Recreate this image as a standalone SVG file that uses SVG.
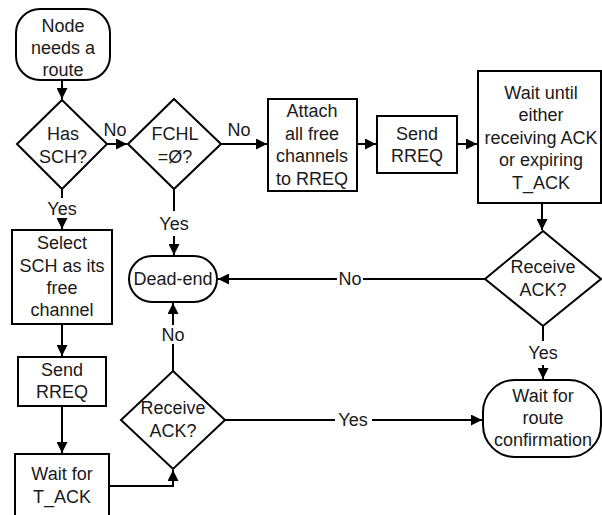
<svg xmlns="http://www.w3.org/2000/svg" width="602" height="515" viewBox="0 0 602 515">
<style>
.s{fill:#fff;stroke:#000;stroke-width:2}
.c{fill:none;stroke:#000;stroke-width:2}
text{font-family:"Liberation Sans",Arial,sans-serif;font-size:18px;fill:#1a1a1a;text-anchor:middle}
</style>
<defs>
<marker id="a" markerUnits="userSpaceOnUse" viewBox="0 0 10 10" refX="10" refY="5" markerWidth="11" markerHeight="11" orient="auto">
<path d="M0,0 L10,5 L0,10 z" fill="#000"/>
</marker>
</defs>
<g id="connectors">
<path class="c" d="M62,80 V99" marker-end="url(#a)"/>
<path class="c" d="M107,144 H127" marker-end="url(#a)"/>
<path class="c" d="M221,144 H267" marker-end="url(#a)"/>
<path class="c" d="M357,144 H376" marker-end="url(#a)"/>
<path class="c" d="M457,144 H477" marker-end="url(#a)"/>
<path class="c" d="M542,203 V230" marker-end="url(#a)"/>
<path class="c" d="M62,189 V198 M62,221 V229" marker-end="url(#a)"/>
<path class="c" d="M174,189 V211 M174,236 V255" marker-end="url(#a)"/>
<path class="c" d="M485,279 H363 M337,279 H218" marker-end="url(#a)"/>
<path class="c" d="M543,326 V341 M543,365 V379" marker-end="url(#a)"/>
<path class="c" d="M62,324 V356" marker-end="url(#a)"/>
<path class="c" d="M62,406 V453" marker-end="url(#a)"/>
<path class="c" d="M109,486 H173 V470" marker-end="url(#a)"/>
<path class="c" d="M173,371 V344 M173,325 V303" marker-end="url(#a)"/>
<path class="c" d="M225,420 H335 M372,420 H482" marker-end="url(#a)"/>
</g>
<g id="labels">
<text x="115" y="136">No</text>
<text x="239" y="136">No</text>
<text x="62" y="215">Yes</text>
<text x="174" y="230">Yes</text>
<text x="350" y="285">No</text>
<text x="543" y="359">Yes</text>
<text x="173" y="341">No</text>
<text x="353" y="426">Yes</text>
</g>
<g id="start">
<rect class="s" x="16" y="9" width="94" height="71" rx="24"/>
<text x="63" y="32">Node</text>
<text x="63" y="54">needs a</text>
<text x="63" y="76">route</text>
</g>
<g id="has-sch">
<path class="s" d="M62,100 L107,144 L62,189 L17,144 z"/>
<text x="63" y="140">Has</text>
<text x="63" y="163">SCH?</text>
</g>
<g id="fchl">
<path class="s" d="M174,99 L221,144 L174,189 L128,144 z"/>
<text x="175" y="140">FCHL</text>
<text x="175" y="163">=Ø?</text>
</g>
<g id="attach">
<rect class="s" x="268" y="99" width="89" height="92"/>
<text x="312" y="117">Attach</text>
<text x="312" y="140">all free</text>
<text x="312" y="162">channels</text>
<text x="312" y="185">to RREQ</text>
</g>
<g id="send-rreq-top">
<rect class="s" x="377" y="116" width="80" height="57"/>
<text x="417" y="140">Send</text>
<text x="417" y="162">RREQ</text>
</g>
<g id="wait-until">
<rect class="s" x="478" y="71" width="123" height="132"/>
<text x="541" y="99">Wait until</text>
<text x="541" y="121">either</text>
<text x="541" y="144">receiving ACK</text>
<text x="541" y="166">or expiring</text>
<text x="541" y="189">T_ACK</text>
</g>
<g id="receive-ack-right">
<path class="s" d="M543,231 L601,279 L543,326 L485,279 z"/>
<text x="543" y="273">Receive</text>
<text x="543" y="296">ACK?</text>
</g>
<g id="wait-route">
<rect class="s" x="483" y="380" width="118" height="77" rx="32"/>
<text x="543" y="402">Wait for</text>
<text x="543" y="424">route</text>
<text x="543" y="446">confirmation</text>
</g>
<g id="dead-end">
<rect class="s" x="129" y="256" width="88" height="46" rx="23"/>
<text x="173" y="285">Dead-end</text>
</g>
<g id="select-sch">
<rect class="s" x="12" y="230" width="100" height="94"/>
<text x="62" y="249">Select</text>
<text x="62" y="272">SCH as its</text>
<text x="62" y="294">free</text>
<text x="62" y="316">channel</text>
</g>
<g id="send-rreq-left">
<rect class="s" x="18" y="357" width="88" height="49"/>
<text x="62" y="376">Send</text>
<text x="62" y="398">RREQ</text>
</g>
<g id="wait-tack">
<rect class="s" x="15" y="454" width="94" height="75"/>
<text x="62" y="480">Wait for</text>
<text x="62" y="503">T_ACK</text>
</g>
<g id="receive-ack-left">
<path class="s" d="M173,371 L225,420 L173,469 L121,420 z"/>
<text x="173" y="414">Receive</text>
<text x="173" y="437">ACK?</text>
</g>
</svg>
